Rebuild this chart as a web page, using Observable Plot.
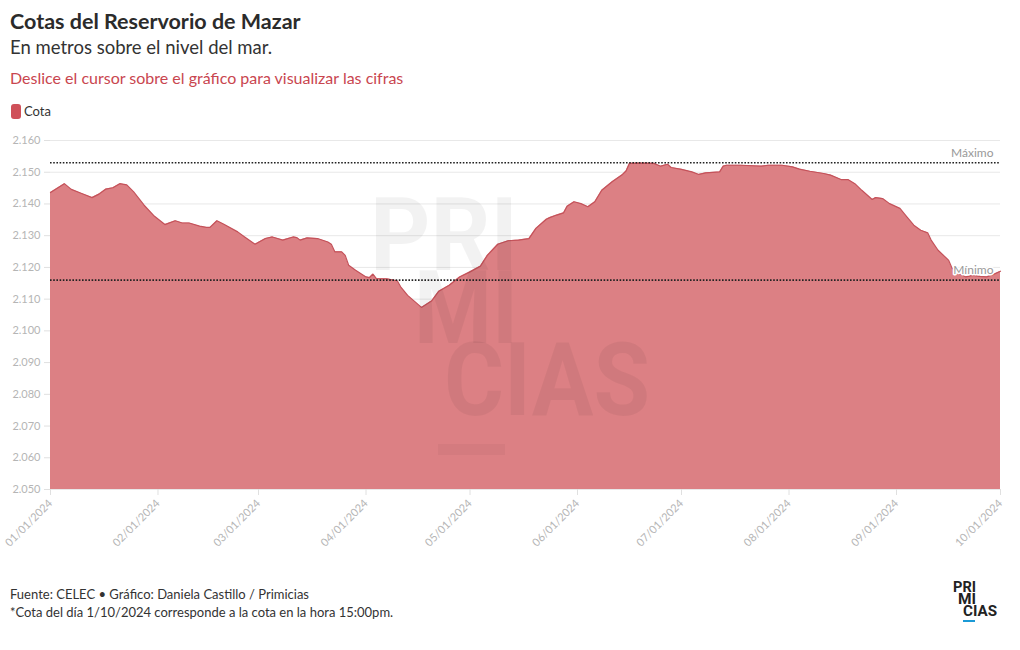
<!DOCTYPE html>
<html>
<head>
<meta charset="utf-8">
<script src="https://cdn.jsdelivr.net/npm/d3@7"></script>
<script src="https://cdn.jsdelivr.net/npm/@observablehq/plot@0.6"></script>
<style>
  html, body { margin: 0; padding: 0; background: #fff; }
  body { width: 1020px; height: 650px; position: relative; font-family: Lato, "Noto Sans", sans-serif; overflow: hidden; }
  .abs { position: absolute; white-space: nowrap; }
  #title { left: 10px; top: 8px; font-size: 21.5px; font-weight: 700; color: #2b2b2b; }
  #subtitle { left: 10px; top: 36px; font-size: 18.5px; color: #333; }
  #hint { left: 10px; top: 68px; font-size: 16px; color: #c9464f; }
  #legend { left: 11px; top: 103px; font-size: 13px; color: #333; display: flex; align-items: center; }
  #legend .sw { width: 10px; height: 15px; border-radius: 3px; background: #cf5059; margin-right: 3px; }
  #chart { left: 0; top: 130px; }
  #foot1 { left: 10px; top: 586px; font-size: 13px; color: #333; }
  #foot2 { left: 10px; top: 604px; font-size: 13px; color: #333; }
  #wm, #logo { position: absolute; left: 0; top: 0; pointer-events: none; }
</style>
</head>
<body>
<div id="title" class="abs">Cotas del Reservorio de Mazar</div>
<div id="subtitle" class="abs">En metros sobre el nivel del mar.</div>
<div id="hint" class="abs">Deslice el cursor sobre el gráfico para visualizar las cifras</div>
<div id="legend" class="abs"><span class="sw"></span><span>Cota</span></div>
<div id="chart" class="abs"></div>
<svg id="wm" width="1020" height="650">
  <g fill="#000" fill-opacity="0.05" font-family="Roboto, sans-serif" font-weight="700" font-size="102">
    <text x="370" y="270" textLength="148" lengthAdjust="spacingAndGlyphs">PRI</text>
    <text x="414" y="343" textLength="104" lengthAdjust="spacingAndGlyphs">MI</text>
    <text x="444" y="415" textLength="206" lengthAdjust="spacingAndGlyphs">CIAS</text>
    <rect x="438" y="444" width="67" height="11" fill-opacity="0.035"></rect>
  </g>
</svg>
<div id="foot1" class="abs">Fuente: CELEC • Gráfico: Daniela Castillo / Primicias</div>
<div id="foot2" class="abs">*Cota del día 1/10/2024 corresponde a la cota en la hora 15:00pm.</div>
<svg id="logo" width="1020" height="650">
  <g fill="#222" font-family="Roboto, sans-serif" font-weight="700" font-size="14">
    <text x="953" y="592" textLength="23" lengthAdjust="spacingAndGlyphs">PRI</text>
    <text x="958" y="604" textLength="18" lengthAdjust="spacingAndGlyphs">MI</text>
    <text x="963" y="616" textLength="34" lengthAdjust="spacingAndGlyphs">CIAS</text>
  </g>
  <rect x="963" y="620" width="12" height="2" fill="#1b9ad6"></rect>
</svg>
<script>
// ---- Data ----
const fechas = [
  "2024-01-01","2024-01-05","2024-01-07","2024-01-10","2024-01-13","2024-01-15","2024-01-17","2024-01-19",
  "2024-01-21","2024-01-23","2024-01-25","2024-01-28","2024-01-31","2024-02-03","2024-02-06","2024-02-08",
  "2024-02-10","2024-02-13","2024-02-15","2024-02-16","2024-02-18","2024-02-20","2024-02-24","2024-02-26",
  "2024-02-29","2024-03-03","2024-03-05","2024-03-08","2024-03-11","2024-03-12","2024-03-13","2024-03-15",
  "2024-03-18","2024-03-21","2024-03-22","2024-03-23","2024-03-25","2024-03-26","2024-03-27","2024-03-29",
  "2024-04-01","2024-04-02","2024-04-03","2024-04-04","2024-04-07","2024-04-10","2024-04-11","2024-04-13",
  "2024-04-17","2024-04-20","2024-04-22","2024-04-25","2024-04-28","2024-05-01","2024-05-04","2024-05-06",
  "2024-05-09","2024-05-12","2024-05-15","2024-05-18","2024-05-20","2024-05-23","2024-05-24","2024-05-26",
  "2024-05-28","2024-05-29","2024-05-31","2024-06-02","2024-06-04","2024-06-06","2024-06-08","2024-06-11",
  "2024-06-14","2024-06-15","2024-06-16","2024-06-19","2024-06-23","2024-06-25","2024-06-27","2024-06-28",
  "2024-07-01","2024-07-04","2024-07-06","2024-07-08","2024-07-12","2024-07-13","2024-07-14","2024-07-18",
  "2024-07-24","2024-07-26","2024-07-30","2024-08-02","2024-08-04","2024-08-07","2024-08-11","2024-08-13",
  "2024-08-16","2024-08-18","2024-08-20","2024-08-22","2024-08-25","2024-08-26","2024-08-28","2024-08-30",
  "2024-09-02","2024-09-04","2024-09-06","2024-09-08","2024-09-10","2024-09-11","2024-09-13","2024-09-16",
  "2024-09-17","2024-09-19","2024-09-21","2024-09-23","2024-09-25","2024-09-27","2024-09-29","2024-10-01"
];
const cotas = [
  2143.6,2146.4,2144.6,2143.3,2142.0,2143.1,2144.7,2145.1,
  2146.4,2146.0,2143.8,2139.6,2136.1,2133.5,2134.7,2134.0,
  2134.0,2133.0,2132.6,2132.6,2134.7,2133.6,2131.2,2129.6,
  2127.3,2129.1,2129.6,2128.6,2129.6,2129.4,2128.6,2129.3,
  2129.1,2128.0,2127.3,2124.9,2124.9,2123.8,2120.7,2119.1,
  2117.0,2116.8,2117.9,2116.5,2116.4,2115.8,2113.9,2111.2,
  2107.4,2109.5,2112.5,2114.4,2117.0,2118.6,2120.4,2123.8,
  2127.3,2128.4,2128.6,2129.1,2132.3,2135.2,2135.7,2136.5,
  2137.2,2139.3,2140.7,2140.1,2139.1,2140.7,2144.3,2147.0,
  2149.3,2150.4,2152.8,2152.9,2152.8,2151.9,2152.5,2151.5,
  2150.9,2150.1,2149.3,2149.8,2150.1,2151.9,2152.2,2152.2,
  2151.9,2152.2,2152.2,2151.7,2151.0,2150.3,2149.6,2149.1,
  2147.7,2147.7,2146.4,2144.3,2141.4,2142.0,2141.7,2140.1,
  2138.6,2135.9,2133.3,2131.7,2130.9,2128.6,2125.4,2122.3,
  2119.8,2118.1,2117.0,2117.5,2117.2,2117.0,2117.8,2118.8
];
const refEtiquetas = ["Máximo", "Mínimo"];
const refValores = [2153, 2116];
const yTicks = [2050, 2060, 2070, 2080, 2090, 2100, 2110, 2120, 2130, 2140, 2150, 2160];
const xTickFechas = ["2024-01-01","2024-02-01","2024-03-01","2024-04-01","2024-05-01","2024-06-01","2024-07-01","2024-08-01","2024-09-01","2024-10-01"];

// ---- Build ----
const rows = fechas.map((f, i) => ({ date: new Date(f + "T00:00:00Z"), v: cotas[i] }));
const xStart = new Date(xTickFechas[0] + "T00:00:00Z");
const xEnd = new Date(xTickFechas[xTickFechas.length - 1] + "T00:00:00Z");
const refs = refEtiquetas.map((l, i) => ({ label: l, v: refValores[i], date: xEnd }));
const locale = d3.formatLocale({ decimal: ",", thousands: ".", grouping: [3], currency: ["$", ""] });
const fmtY = locale.format(",.0f");
const fmtX = d3.utcFormat("%m/%d/%Y");

const chart = Plot.plot({
  width: 1020,
  height: 430,
  marginLeft: 50,
  marginRight: 20,
  marginTop: 10,
  marginBottom: 71,
  x: { type: "utc", domain: [xStart, xEnd] },
  y: { domain: [2050, 2160] },
  style: { fontFamily: "Lato, 'Noto Sans', sans-serif", fontSize: "11px", background: "transparent", color: "#aaa", overflow: "visible" },
  marks: [
    Plot.gridY(yTicks, { stroke: "#e8e8e8", strokeOpacity: 1 }),
    Plot.areaY(rows, { x: "date", y1: 2050, y2: "v", fill: "#dc8084" }),
    Plot.lineY(rows, { x: "date", y: "v", stroke: "#c4525a", strokeWidth: 1.2 }),
    Plot.ruleY(refValores, { stroke: "#222", strokeWidth: 1.6, strokeDasharray: "1.6,1.6" }),
    Plot.text(refs, { x: "date", y: "v", text: "label", textAnchor: "end", dx: -7, dy: -10, fill: "#999", stroke: "white", strokeWidth: 3, fontSize: 12 }),
    Plot.axisY({ ticks: yTicks, tickFormat: fmtY, tickSize: 6, tickPadding: 4, stroke: "#e0e0e0", fill: "#b5b5b5", label: null }),
    Plot.axisX({ ticks: xTickFechas.map(f => new Date(f + "T00:00:00Z")), tickFormat: fmtX, tickRotate: -45, tickSize: 6, tickPadding: 6, stroke: "#e0e0e0", fill: "#b5b5b5", label: null })
  ]
});
document.getElementById("chart").appendChild(chart);
</script>
</body>
</html>
